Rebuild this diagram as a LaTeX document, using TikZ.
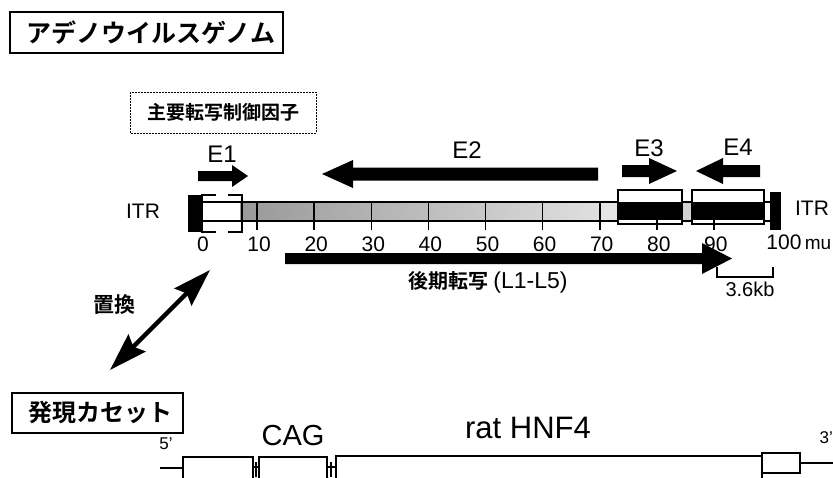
\documentclass[tikz,border=0pt]{standalone}
\usepackage{fontspec}
\setmainfont{Liberation Sans}
\newfontfamily\jp[BoldFont={Noto Sans CJK JP Bold}]{Noto Sans CJK JP}
\usetikzlibrary{arrows.meta}
\tikzset{
  txt/.style={inner sep=0pt, anchor=center},
  fs/.style={font=\fontsize{#1}{#1}\selectfont},
  framebox/.style={draw=black, line width=1.3pt, fill=white},
  bracket/.style={draw=black, line width=1.5pt},
  tick/.style={draw=black, line width=1.6pt},
  blk/.style={fill=black},
}
\begin{document}
\begin{tikzpicture}[x=1pt,y=-1pt]
\useasboundingbox (0,0) rectangle (833,477);
\fill[white] (0,0) rectangle (833,477);

% ---- title boxes
\draw[framebox] (10,12) rectangle (283,53);
\node[txt,fs=25] (title) at (151,33) {\jp\bfseries アデノウイルスゲノム};

\draw[draw=black, line width=0.8pt, dash pattern=on 2pt off 1pt] (130,92) rectangle (316,133);
\node[txt,fs=19] (ctrl) at (223,112) {\jp\bfseries 主要転写制御因子};

% ---- early region arrows and labels
\node[txt,fs=24] (e1) at (222,154) {E1};
\node[txt,fs=24] (e2) at (467,150) {E2};
\node[txt,fs=24] (e3) at (649,148) {E3};
\node[txt,fs=24] (e4) at (738,147) {E4};

\fill[blk] (198,171)--(232,171)--(232,165)--(248,176)--(232,187)--(232,181)--(198,181)--cycle;
\fill[blk] (598,167.5)--(353,167.5)--(353,160)--(322,174)--(353,188)--(353,180.5)--(598,180.5)--cycle;
\fill[blk] (622,165)--(649,165)--(649,158)--(677,171)--(649,184)--(649,177)--(622,177)--cycle;
\fill[blk] (760,165)--(723,165)--(723,158)--(696,171)--(723,184)--(723,177)--(760,177)--cycle;

% ---- genome bar
\fill[white] (200,202) rectangle (770,221);
\shade[left color=gray!80, right color=gray!25] (240,203) rectangle (600,220);
\fill[gray!20] (600,203) rectangle (618,220);
\fill[gray!35] (682,203) rectangle (692,220);
\draw[black, line width=2.2pt] (200,202) -- (770,202);
\draw[black, line width=2.2pt] (200,221) -- (770,221);

% E3 / E4 boxes
\draw[framebox, line width=1.5pt] (618,190) rectangle (682,224);
\fill[blk] (618,202) rectangle (682,220);
\draw[framebox, line width=1.5pt, fill=none] (618,190) rectangle (682,224);
\draw[framebox, line width=1.5pt] (692,190) rectangle (764,224);
\fill[blk] (692,202) rectangle (764,220);
\draw[framebox, line width=1.5pt, fill=none] (692,190) rectangle (764,224);

% ITR blocks
\fill[blk] (188,195) rectangle (201,232);
\fill[blk] (770,192) rectangle (781,230);

% bracket around E1 promoter region
\draw[bracket] (216,195) -- (202,195) -- (202,232) -- (216,232);
\draw[bracket] (228,195) -- (242,195) -- (242,232) -- (228,232);

% ticks
\foreach \k in {1,...,9} {
  \draw[tick] ({200+57.1*\k},202) -- ({200+57.1*\k},230);
}

% scale numbers
\node[txt,fs=21] (n0) at (203,244) {0};
\foreach \k/\lab in {1/10,2/20,3/30,4/40,5/50,6/60,7/70,8/80,9/90} {
  \node[txt,fs=21] (n\k) at ({202+57.1*\k},244) {\lab};
}
\node[txt,fs=21] (n100) at (784,242) {100};
\node[txt,fs=19] (mu) at (818,244) {mu};

\node[txt,fs=21] (itrL) at (143,211) {ITR};
\node[txt,fs=21] (itrR) at (812,208) {ITR};

% late transcription arrow
\fill[blk] (285,253)--(702,253)--(702,243)--(732,258.5)--(702,274)--(702,264)--(285,264)--cycle;
\node[txt] (late) at (488,282) {{\fontsize{20}{20}\selectfont\jp\bfseries 後期転写}\hspace{5pt}{\fontsize{23}{23}\selectfont (L1-L5)}};

% 3.6kb scale bar
\coordinate (kbA) at (717,267);
\coordinate (kbB) at (773,267);
\draw[black, line width=1.5pt] (kbA) -- ++(0,10) -- ++(56,0) -- (kbB);
\node[txt,fs=20] (kb) at (750,289) {3.6kb};

% replacement double arrow
\coordinate (repA) at (110,370);
\coordinate (repB) at (210,270);
\draw[black, line width=4.5pt, {Stealth[length=38pt,width=24pt,inset=5pt]}-{Stealth[length=38pt,width=24pt,inset=5pt]}] (repA) -- (repB);
\node[txt,fs=21] (chikan) at (114,305) {\jp\bfseries 置換};

% ---- expression cassette
\draw[framebox] (12,393) rectangle (183,433);
\node[txt,fs=24] (cas) at (100,412) {\jp\bfseries 発現カセット};

\node[txt,fs=17] (p5) at (166,444) {5'};
\node[txt,fs=29] (cag) at (293,436) {CAG};
\node[txt,fs=31] (hnf) at (528,428) {rat HNF4};
\node[inner sep=0pt, anchor=east, fs=17] (p3) at (833,438) {3'};

\draw[black, line width=2pt] (160,468) -- (183,468);
\draw[black, line width=2pt] (253,467) -- (259,467);
\draw[black, line width=2.5pt] (256,462) -- (256,477);
\draw[black, line width=2pt] (327,467) -- (336,467);
\draw[black, line width=2.5pt] (331,462) -- (331,477);
\draw[black, line width=2pt] (800,463) -- (833,463);

\draw[black, line width=1.6pt] (183,480) -- (183,457) -- (253,457) -- (253,480);
\draw[black, line width=1.6pt] (259,480) -- (259,457) -- (327,457) -- (327,480);
\draw[black, line width=1.6pt] (336,480) -- (336,456) -- (762,456) -- (762,480);
\draw[black, line width=1.6pt] (762,453) rectangle (800,473);
\end{tikzpicture}
\end{document}
